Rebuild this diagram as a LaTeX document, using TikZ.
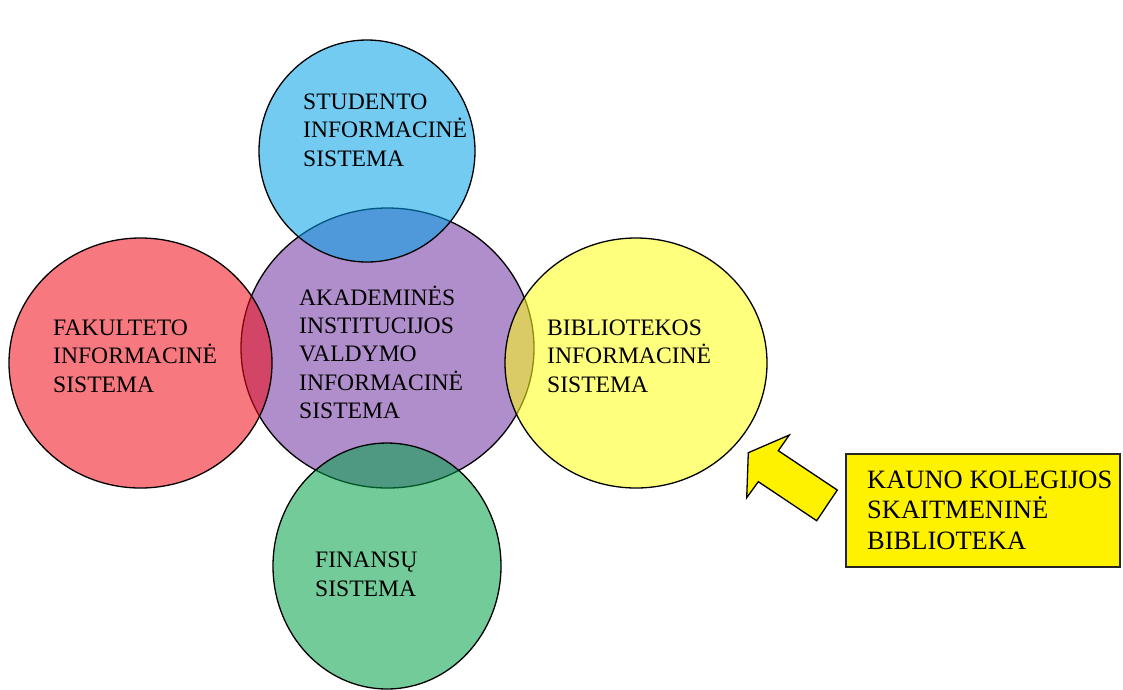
\documentclass[tikz,border=0pt]{standalone}
\usepackage{fontspec}
\setmainfont{Liberation Serif}
\usepackage{xcolor}
\usetikzlibrary{shapes.geometric}

\definecolor{studblue}{RGB}{0,160,232}
\definecolor{akadviolet}{RGB}{112,48,160}
\definecolor{fakred}{RGB}{240,10,20}
\definecolor{bibyellow}{RGB}{255,255,20}
\definecolor{fingreen}{RGB}{0,160,70}

\begin{document}
\begin{tikzpicture}[x=1pt, y=-1pt,
    sistema/.style = {ellipse, draw=black, line width=1.3pt, inner sep=0pt,
                      fill opacity=0.55},
    tekstas/.style = {anchor=base west, align=left, inner sep=0pt,
                      font=\fontsize{23.6}{28.3}\selectfont},
    kolegija/.style = {rectangle, draw=black!85, line width=1.6pt, fill=yellow,
                       minimum width=274pt, minimum height=113pt}]
  \useasboundingbox (0,0) rectangle (1123,689);

  % the circles
  \node (akad) [sistema, fill=akadviolet, minimum width=293pt, minimum height=280pt] at (387.5,348) {};
  \node (stud) [sistema, fill=studblue, minimum width=216pt, minimum height=222pt] at (367,151) {};
  \node (fak) [sistema, fill=fakred, minimum width=263pt, minimum height=250pt] at (140.5,363) {};
  \node (bib) [sistema, fill=bibyellow, minimum width=262pt, minimum height=250pt] at (636,363) {};
  \node (fin) [sistema, fill=fingreen, minimum width=228pt, minimum height=246pt] at (387,566) {};

  % texts (anchored at the last line)
  \node (stud-t) [tekstas] at (303,166) {STUDENTO\\INFORMACINĖ\\SISTEMA};
  \node (akad-t) [tekstas] at (299,418.3) {AKADEMINĖS\\INSTITUCIJOS\\VALDYMO\\INFORMACINĖ\\SISTEMA};
  \node (fak-t) [tekstas] at (53,392) {FAKULTETO\\INFORMACINĖ\\SISTEMA};
  \node (bib-t) [tekstas] at (547,392) {BIBLIOTEKOS\\INFORMACINĖ\\SISTEMA};
  \node (fin-t) [tekstas] at (315,596) {FINANSŲ\\SISTEMA};

  \node (kk) [kolegija] at (983,510.5) {};
  \node (kk-t) [tekstas, font=\fontsize{26.5}{30.5}\selectfont] at (867,549)
    {KAUNO KOLEGIJOS\\SKAITMENINĖ\\BIBLIOTEKA};

  % block arrow
  \draw[fill=yellow, line width=1.3pt, line join=miter]
    (748.3,452.7) -- (789.3,435) -- (778.3,450.7) -- (837.3,490)
    -- (816.7,520.7) -- (758.3,481.7) -- (746.7,497.7) -- cycle;
\end{tikzpicture}
\end{document}
